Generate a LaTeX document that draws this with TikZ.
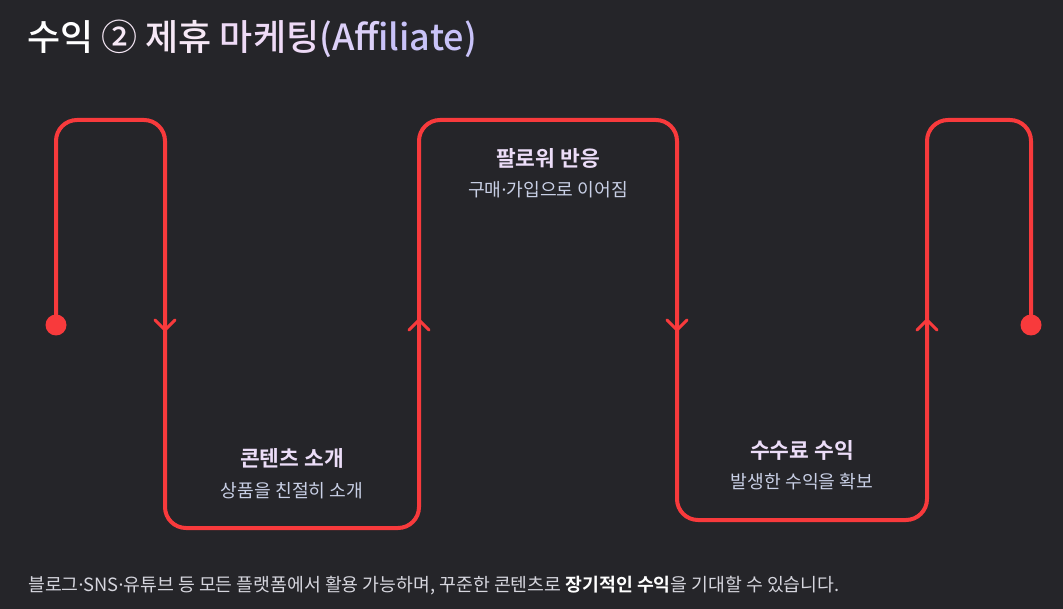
\documentclass[tikz,border=0pt]{standalone}
\usepackage{fontspec}
\setmainfont{Noto Sans CJK KR}[BoldFont={Noto Sans CJK KR Bold}]
\newfontfamily\krmed{Noto Sans CJK KR Medium}
\newfontfamily\latf{Noto Sans}
\newcommand{\mdot}{{\latf\char"00B7}}
\definecolor{bgc}{HTML}{252529}
\definecolor{linec}{HTML}{F83A3C}
\definecolor{headc}{HTML}{ECDDF8}
\definecolor{subc}{HTML}{C9D0E6}
\definecolor{notec}{HTML}{D6D6DE}
\definecolor{tA}{HTML}{FFFFFF}
\definecolor{tB}{HTML}{F6E8F6}
\definecolor{tC}{HTML}{EEDAF6}
\definecolor{tD}{HTML}{DCD0F8}
\definecolor{tE}{HTML}{C8C2F8}
\tikzset{
  redline/.style={draw=linec, line width=4pt, line join=round, line cap=round},
  chev/.style={draw=linec, line width=3pt, line cap=round, line join=miter},
  head/.style={text=headc, font=\fontsize{21.5}{24}\selectfont\bfseries, anchor=base, inner sep=0pt},
  sub/.style={text=subc, font=\fontsize{18.2}{21}\selectfont, anchor=base, inner sep=0pt},
}
\begin{document}
\begin{tikzpicture}[x=1pt,y=-1pt]
\fill[bgc] (0,0) rectangle (1063,609);
\useasboundingbox (0,0) rectangle (1063,609);
% title
\node[anchor=base west, inner sep=0pt, font=\fontsize{36}{40}\selectfont\krmed] (title) at (27,51)
  {\textcolor{tA}{수익} \textcolor{tB}{②} \textcolor{tB}{제휴} \textcolor{tC}{마케팅}\textcolor{tD}{(Aff}\textcolor{tE}{iliate)}};
% path coordinates
\coordinate (s) at (56,325);
\coordinate (p1) at (56,120);
\coordinate (p2) at (165,120);
\coordinate (p3) at (165,528);
\coordinate (p4) at (419,528);
\coordinate (p5) at (419,120);
\coordinate (p6) at (677,120);
\coordinate (p7) at (677,520);
\coordinate (p8) at (927,520);
\coordinate (p9) at (927,120);
\coordinate (p10) at (1031,120);
\coordinate (e) at (1031,325);
\draw[redline, rounded corners=21pt] (s) -- (p1) -- (p2) -- (p3) -- (p4) -- (p5) -- (p6) -- (p7) -- (p8) -- (p9) -- (p10) -- (e);
\fill[linec] (s) circle (10.5);
\fill[linec] (e) circle (10.5);
% chevrons
\coordinate (a1) at (165,330);
\coordinate (a2) at (419,320);
\coordinate (a3) at (677,330);
\coordinate (a4) at (927,320);
\draw[chev] ([shift={(-10,-10)}]a1) -- (a1) -- ([shift={(10,-10)}]a1);
\draw[chev] ([shift={(-10,10)}]a2) -- (a2) -- ([shift={(10,10)}]a2);
\draw[chev] ([shift={(-10,-10)}]a3) -- (a3) -- ([shift={(10,-10)}]a3);
\draw[chev] ([shift={(-10,10)}]a4) -- (a4) -- ([shift={(10,10)}]a4);
% labels
\node[head] (h1) at (292,466) {콘텐츠 소개};
\node[sub] (s1) at (292,497) {상품을 친절히 소개};
\node[head] (h2) at (548,167) {팔로워 반응};
\node[sub] (s2) at (548,197) {구매\mdot 가입으로 이어짐};
\node[head] (h3) at (802,458) {수수료 수익};
\node[sub] (s3) at (802,488) {발생한 수익을 확보};
% note
\node[anchor=base west, inner sep=0pt, text=notec, font=\fontsize{18.3}{21}\selectfont] (note) at (28,591)
  {블로그\mdot SNS\mdot 유튜브 등 모든 플랫폼에서 활용 가능하며, 꾸준한 콘텐츠로 \textbf{\color{white}장기적인 수익}을 기대할 수 있습니다.};
\end{tikzpicture}
\end{document}
